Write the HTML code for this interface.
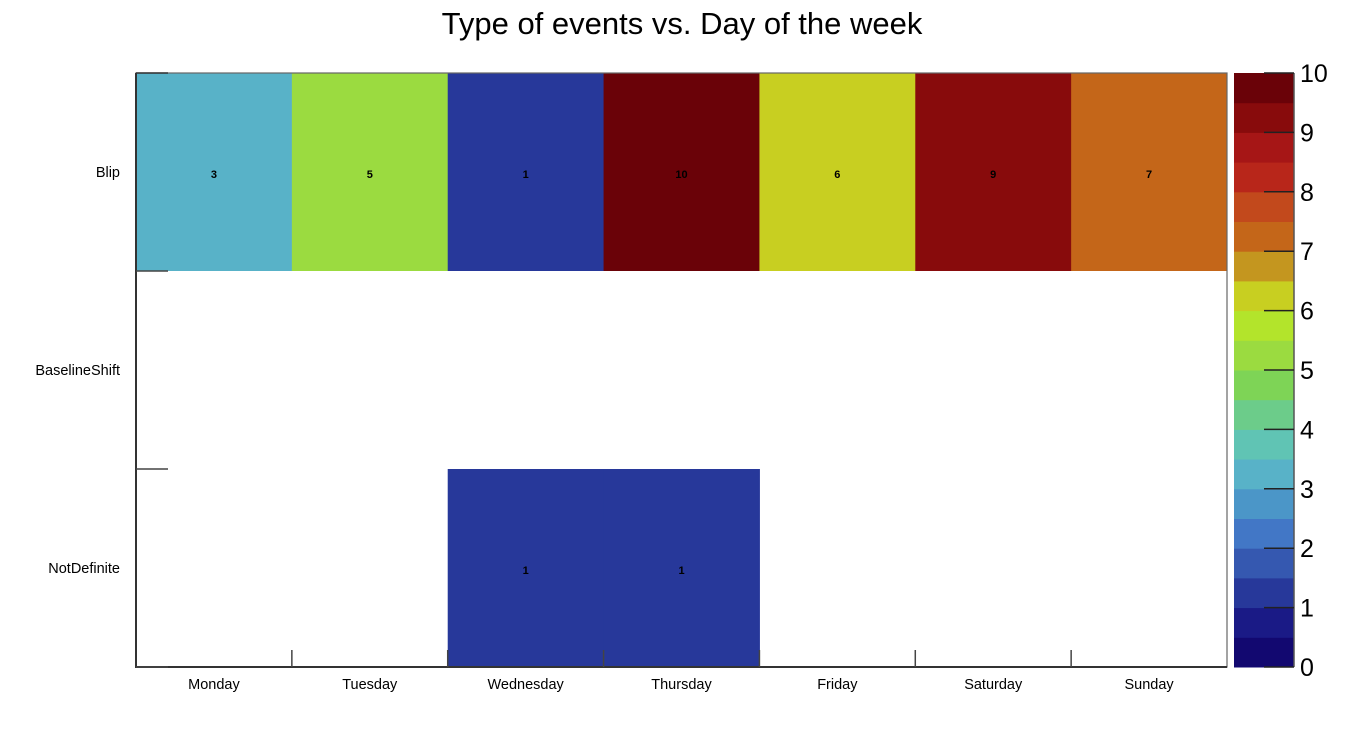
<!DOCTYPE html>
<html>
<head>
<meta charset="utf-8">
<style>
html,body{margin:0;padding:0;background:#fff;}
svg{display:block;font-family:"Liberation Sans",sans-serif;}
</style>
</head>
<body>
<svg id="chart" width="1364" height="743" viewBox="0 0 1364 743">
<text x="682" y="34" text-anchor="middle" font-size="31" fill="#000">Type of events vs. Day of the week</text>
<g id="cells"></g>
<g id="axes"></g>
<g id="palette"></g>
</svg>
<script>
const days = ["Monday","Tuesday","Wednesday","Thursday","Friday","Saturday","Sunday"];
const types = ["Blip","BaselineShift","NotDefinite"];
const blipCounts = [3,5,1,10,6,9,7];
const baselineShiftCounts = [0,0,0,0,0,0,0];
const notDefiniteCounts = [0,0,1,1,0,0,0];
const scaleTicks = [0,1,2,3,4,5,6,7,8,9,10];
const paletteColors = ["#120870","#1a1a86","#27389a","#3558b0","#4277c6","#4b96c8","#58b2c8","#60c4b4","#6ccc8a","#7ed456","#9bdb40","#b3e42b","#c8cf21","#c4961f","#c46619","#c2491c","#b8261a","#a61616","#880b0c","#6a0208"];

const NS="http://www.w3.org/2000/svg";
const X0=136,X1=1227,Y0=73,Y1=667;
const zMin=0,zMax=10;
const colW=(X1-X0)/days.length, rowH=(Y1-Y0)/types.length;
const xPos=i=>X0+i*colW;
const yPos=j=>Y0+j*rowH;
const PX0=1234,PX1=1294;
const pY=v=>Y1-(v-zMin)/(zMax-zMin)*(Y1-Y0);
function colorFor(v){let k=Math.floor((v-zMin)/(zMax-zMin)*paletteColors.length);k=Math.max(0,Math.min(paletteColors.length-1,k));return paletteColors[k];}
function mk(tag,attrs,parent){const e=document.createElementNS(NS,tag);for(const k in attrs)e.setAttribute(k,attrs[k]);parent.appendChild(e);return e;}

const cells=document.getElementById('cells');
const rows=[blipCounts,baselineShiftCounts,notDefiniteCounts];
rows.forEach((vals,j)=>{
  vals.forEach((v,i)=>{
    if(v<=0) return;
    const r=mk('rect',{x:xPos(i),y:yPos(j),width:colW+0.5,height:rowH,fill:colorFor(v)},cells);
    
    
    const t=mk('text',{x:xPos(i)+colW/2,y:yPos(j)+rowH/2+6,'text-anchor':'middle','font-size':'11','font-weight':'bold',fill:'#000'},cells);
    t.textContent=v;
    
    
  });
});

const axes=document.getElementById('axes');
const frame=mk('rect',{x:X0,y:Y0,width:X1-X0,height:Y1-Y0,fill:'none',stroke:'#666','stroke-width':1.2},axes);


const la=mk('path',{d:`M${X0},${Y0} L${X0},${Y1} L${X1},${Y1}`,fill:'none',stroke:'#333','stroke-width':2},axes);


days.forEach((d,i)=>{
  if(i>0){const tk=mk('line',{x1:xPos(i),x2:xPos(i),y1:Y1,y2:Y1-17,stroke:'#444','stroke-width':1.5},axes);
  
  }
  const t=mk('text',{x:xPos(i)+colW/2,y:Y1+22,'text-anchor':'middle','font-size':'14.5',fill:'#000'},axes);
  t.textContent=d;
  
  
});
types.forEach((tp,j)=>{
  const tk=mk('line',{x1:X0,x2:X0+32,y1:yPos(j+1),y2:yPos(j+1),stroke:'#444','stroke-width':1.5},axes);
  
  
  const t=mk('text',{x:120,y:yPos(j)+rowH/2+5,'text-anchor':'end','font-size':'14.5',fill:'#000'},axes);
  t.textContent=tp;
  
  
});
const tk0=mk('line',{x1:X0,x2:X0+32,y1:Y0,y2:Y0,stroke:'#333','stroke-width':1.5},axes);



const pal=document.getElementById('palette');
const n=paletteColors.length;
paletteColors.forEach((c,k)=>{
  const lo=zMin+k*(zMax-zMin)/n, hi=zMin+(k+1)*(zMax-zMin)/n;
  const r=mk('rect',{x:PX0,y:pY(hi),width:PX1-PX0,height:pY(lo)-pY(hi)+0.5,fill:c},pal);
  
  
});
const pl=mk('line',{x1:PX1,x2:PX1,y1:Y0,y2:Y1,stroke:'#555','stroke-width':1.5},pal);


scaleTicks.forEach(v=>{
  const tk=mk('line',{x1:PX1,x2:PX1-30,y1:pY(v),y2:pY(v),stroke:'#222','stroke-width':1.5},pal);
  
  
  const t=mk('text',{x:1300,y:pY(v)+9,'font-size':'25',fill:'#000'},pal);
  t.textContent=v;
  
  
});
</script>
</body>
</html>
